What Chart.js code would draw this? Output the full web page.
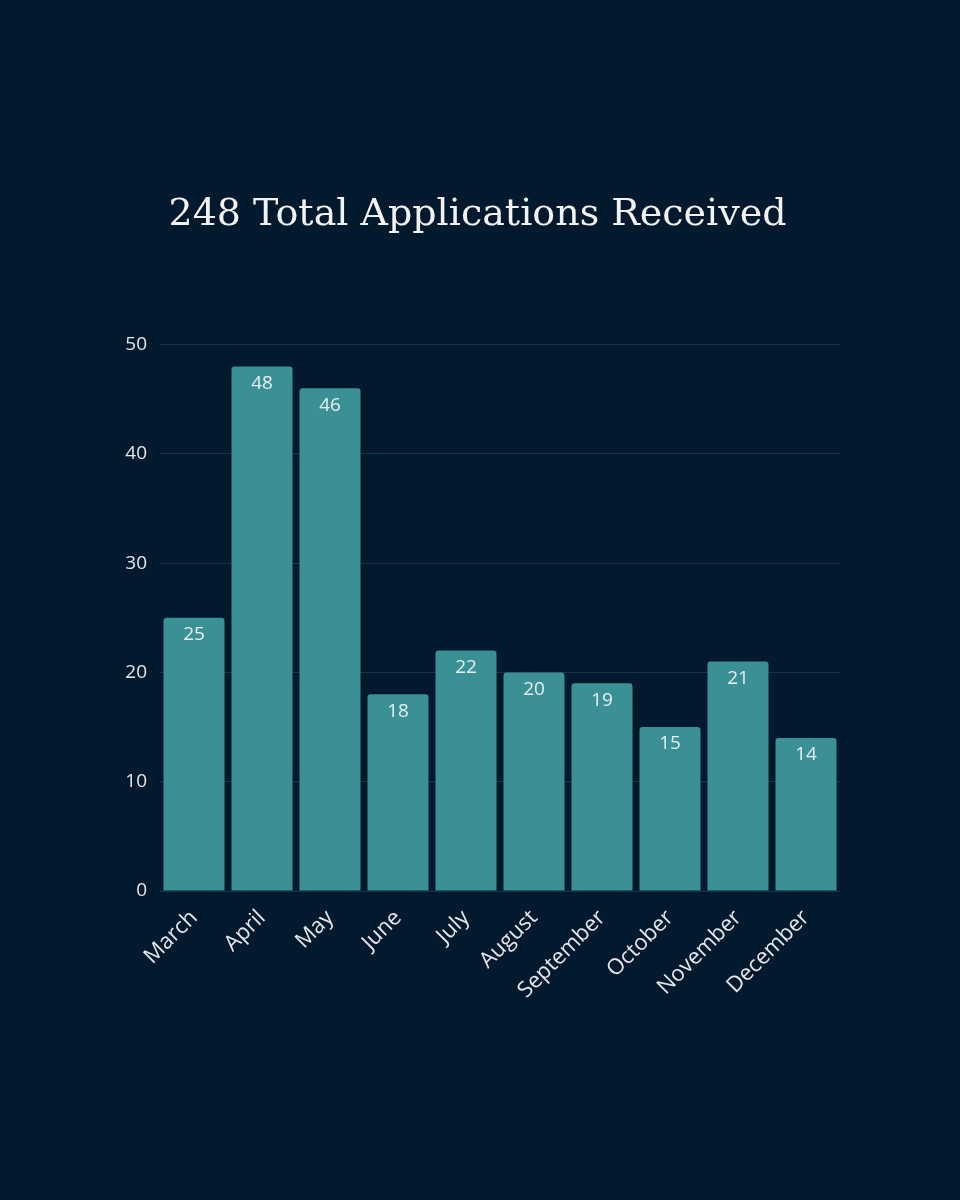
<!DOCTYPE html>
<html>
<head>
<meta charset="utf-8">
<script src="https://cdn.jsdelivr.net/npm/chart.js@4"></script>
<style>
  html, body { margin: 0; padding: 0; background: #03192d; }
  #wrap { width: 960px; height: 1200px; }
</style>
</head>
<body>
<div id="wrap"><canvas id="bar"></canvas></div>
<script>
const months = ['March', 'April', 'May', 'June', 'July', 'August', 'September', 'October', 'November', 'December'];
const applications = [25, 48, 46, 18, 22, 20, 19, 15, 21, 14];
const yTicks = [0, 10, 20, 30, 40, 50];
const titleText = '248 Total Applications Received';

// value labels drawn just inside the top of each bar
const barLabels = {
  id: 'barLabels',
  afterDatasetsDraw(chart) {
    const ctx = chart.ctx;
    const meta = chart.getDatasetMeta(0);
    ctx.save();
    ctx.font = '19px "Open Sans"';
    ctx.fillStyle = '#e6f0f1';
    ctx.textAlign = 'center';
    ctx.textBaseline = 'middle';
    meta.data.forEach((bar, i) => {
      ctx.fillText(applications[i], bar.x, bar.y + 17);
    });
    ctx.restore();
  }
};

new Chart(document.getElementById('bar'), {
  type: 'bar',
  data: {
    labels: months,
    datasets: [{
      data: applications,
      backgroundColor: '#3a9095',
      borderRadius: { topLeft: 3, topRight: 3 },
      borderSkipped: 'bottom',
      barPercentage: 0.897,
      categoryPercentage: 1.0
    }]
  },
  options: {
    responsive: true,
    maintainAspectRatio: false,
    animation: false,
    layout: { padding: { left: 115, right: 120, top: 0, bottom: 0 } },
    plugins: {
      legend: { display: false },
      tooltip: { enabled: false },
      title: {
        display: true,
        text: titleText,
        color: '#f2f2f2',
        font: { family: 'DejaVu Serif', size: 38, weight: 'normal' },
        padding: { top: 192, bottom: 107 }
      }
    },
    scales: {
      x: {
        grid: { display: false, drawTicks: false },
        border: { display: false },
        afterFit: s => { s.height = 309; },
        ticks: {
          color: '#e4e6ea',
          font: { family: 'Open Sans', size: 22 },
          maxRotation: 45,
          minRotation: 45,
          padding: 14
        }
      },
      y: {
        min: 0,
        max: 50,
        afterFit: s => { s.width = 45; },
        afterBuildTicks: s => { s.ticks = yTicks.map(v => ({ value: v })); },
        grid: { color: '#1d3348', lineWidth: 1, drawTicks: false },
        border: { display: false },
        ticks: {
          color: '#e4e6ea',
          font: { family: 'Open Sans', size: 19 },
          padding: 13
        }
      }
    }
  },
  plugins: [barLabels]
});
</script>
</body>
</html>
